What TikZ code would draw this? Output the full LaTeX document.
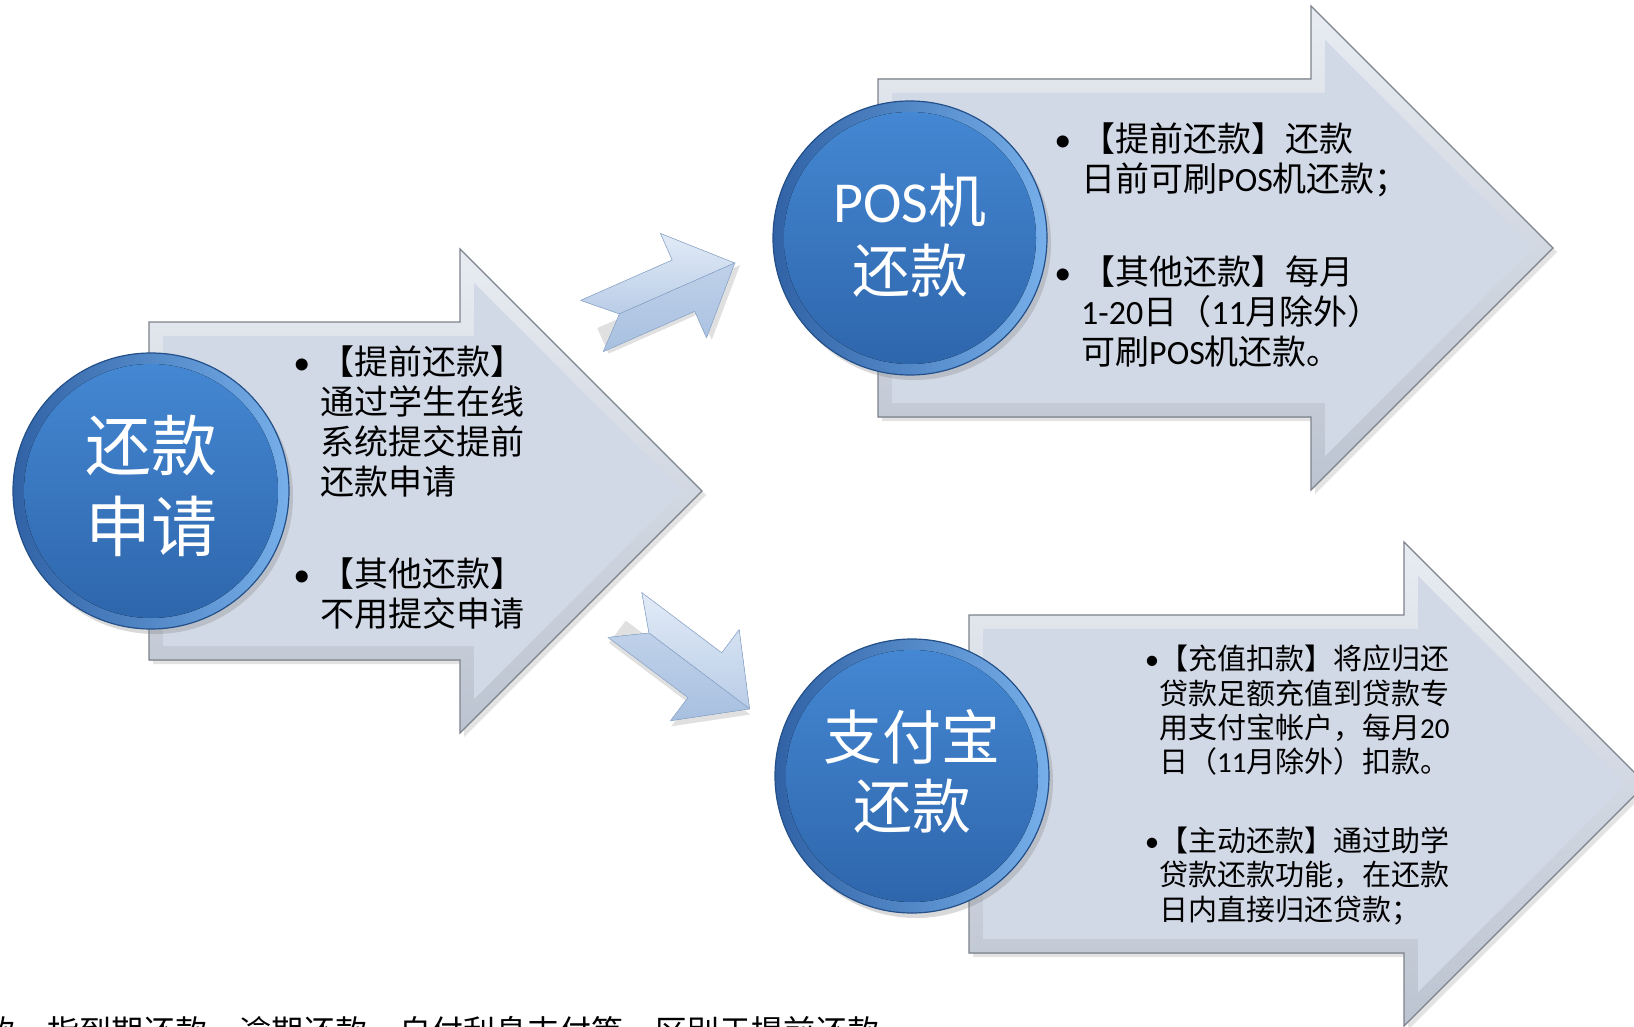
\documentclass[tikz,border=0pt]{standalone}
\usepackage{fontspec}
\setmainfont{Carlito}
\newfontfamily\cjk{Noto Sans CJK SC}
\newfontfamily\lat{Carlito}
\usepackage{tikz}
\usetikzlibrary{shadows}
\definecolor{ArrowFace}{RGB}{210, 217, 230}
\definecolor{ArrowBevelTop}{RGB}{232, 236, 242}
\definecolor{ArrowBevelBot}{RGB}{188, 196, 209}
\definecolor{ArrowEdge}{RGB}{125, 131, 140}
\definecolor{BallTop}{RGB}{68, 135, 210}
\definecolor{BallBot}{RGB}{46, 102, 172}
\definecolor{BallRimL}{RGB}{48, 98, 165}
\definecolor{BallRimR}{RGB}{118, 175, 234}
\definecolor{BallEdge}{RGB}{36, 80, 138}
\definecolor{DartLight}{RGB}{226, 235, 247}
\definecolor{DartDark}{RGB}{168, 192, 224}
\definecolor{DartEdge}{RGB}{150, 176, 212}
\tikzset{
	arrowBevel/.style={draw=ArrowEdge, line width=1.3pt, top color=ArrowBevelTop, bottom color=ArrowBevelBot,
		drop shadow={opacity=0.22, shadow xshift=4pt, shadow yshift=-4pt}},
	arrowFace/.style={fill=ArrowFace},
	ballRim/.style={draw=BallEdge, line width=1.2pt, left color=BallRimL, right color=BallRimR,
		drop shadow={opacity=0.3, shadow xshift=4pt, shadow yshift=-5pt}},
	ballDisk/.style={top color=BallTop, bottom color=BallBot},
	dartLight/.style={top color=DartLight, bottom color=DartDark!70!DartLight, draw=DartEdge, line width=0.6pt},
	dartDark/.style={top color=DartDark!60!DartLight, bottom color=DartDark, draw=DartEdge, line width=0.6pt},
	ballText/.style={text=white, align=center, inner sep=0pt},
	notes/.style={anchor=north west, align=left, inner sep=0pt},
}
\newcommand{\pos}{{\lat POS}}
\newcommand{\bul}[1][10pt]{\llap{{\lat\textbullet}\hspace{#1}}}

\begin{document}
\begin{tikzpicture}[x=1pt, y=-1pt]
	\useasboundingbox (0,0) rectangle (1634,1027);
	\clip (0,0) rectangle (1634,1027);

	% big arrows: body left, head base, centre line
	\foreach \xl/\xb/\cy in {149/460/491, 878/1311/248, 969/1404/784}{
		\filldraw[arrowBevel] (\xl,\cy-169) -- (\xb,\cy-169) -- (\xb,\cy-242) -- (\xb+242,\cy)
			-- (\xb,\cy+242) -- (\xb,\cy+169) -- (\xl,\cy+169) -- cycle;
		\fill[arrowFace] (\xl+14,\cy-155) -- (\xb+14,\cy-155) -- (\xb+14,\cy-208) -- (\xb+222,\cy)
			-- (\xb+14,\cy+208) -- (\xb+14,\cy+155) -- (\xl+14,\cy+155) -- cycle;
	}

	% small arrows between the steps
	\foreach \tx/\ty/\ang in {592/326/23.8, 625/615/-37}{
		\begin{scope}[shift={(\tx,\ty)}, rotate=\ang]
		\fill[black, opacity=0.12] (4,4) -- (34,4) -- (160,4) -- (104,61) -- (104,32) -- (4,32) -- cycle;
		\filldraw[dartLight] (0,-28) -- (100,-28) -- (100,-57) -- (156,0) -- (30,0) -- cycle;
		\filldraw[dartDark] (0,28) -- (100,28) -- (100,57) -- (156,0) -- (30,0) -- cycle;
		\end{scope}
	}

	% blue balls
	\foreach \cx/\cy/\r in {151/491/138, 910/238/137, 912/776/137}{
		\filldraw[ballRim] (\cx,\cy) circle (\r);
		\fill[ballDisk] (\cx,\cy) circle (\r-11);
	}

	\node[ballText, font={\cjk\fontsize{66}{81}\selectfont}] (apply) at (151,486) {还款\\申请};
	\node[ballText, font={\cjk\fontsize{58}{70}\selectfont}] (posball) at (910,236) {\pos 机\\还款};
	\node[ballText, font={\cjk\fontsize{59}{69}\selectfont}] (alipay) at (912,771) {支付宝\\还款};

	\node[notes, font={\cjk\fontsize{34}{40}\selectfont}] (applynote) at (320,346)
		{\bul【提前还款】\\通过学生在线\\系统提交提前\\还款申请\\[52pt]\bul【其他还款】\\不用提交申请};
	\node[notes, font={\cjk\fontsize{34}{40}\selectfont}] (posnote) at (1081,123)
		{\bul【提前还款】还款\\日前可刷\pos 机还款；\\[53pt]\bul【其他还款】每月\\{\lat 1-20}日（{\lat 11}月除外）\\可刷\pos 机还款。};
	\node[notes, font={\cjk\fontsize{29}{34.4}\selectfont}] (alipaynote) at (1159,645)
		{\bul[0pt]【充值扣款】将应归还\\贷款足额充值到贷款专\\用支付宝帐户，每月{\lat 20}\\日（{\lat 11}月除外）扣款。\\[44pt]\bul[0pt]【主动还款】通过助学\\贷款还款功能，在还款\\日内直接归还贷款；};

	\node[anchor=base west, inner sep=0pt, font={\cjk\fontsize{32}{36}\selectfont}] (footnote) at (-17,1043)
		{款，指到期还款、逾期还款、自付利息支付等，区别于提前还款};
\end{tikzpicture}
\end{document}
